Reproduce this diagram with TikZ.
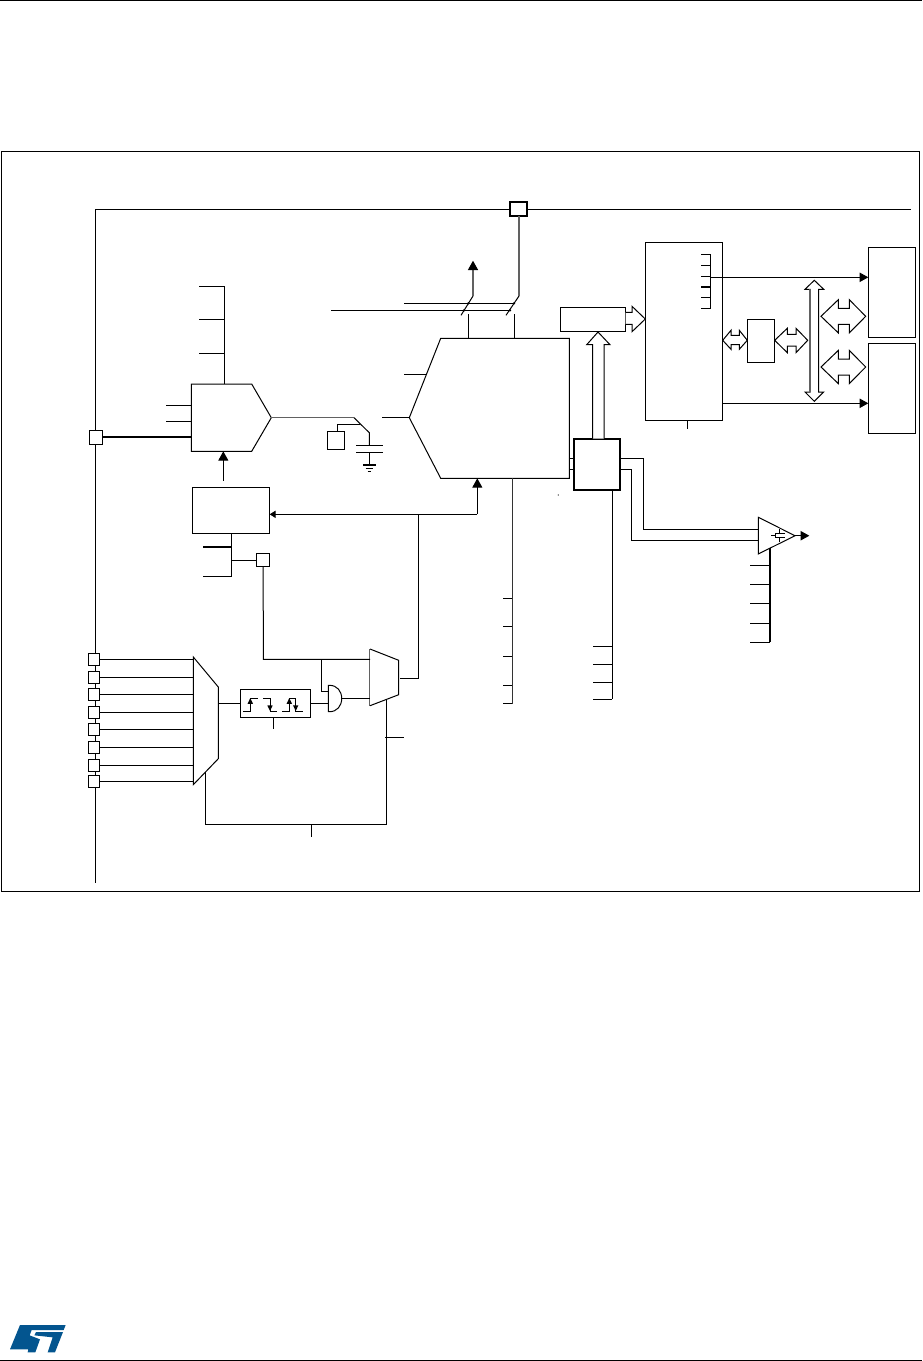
\documentclass[tikz,border=0pt]{standalone}
\usetikzlibrary{fit,arrows.meta}
\definecolor{stblue}{HTML}{03558F}
\newcommand{\bx}[6][]{\node[fit={(#3,#4)(#5,#6)},inner sep=0pt,outer sep=0pt,draw,wire,fill=white,#1](#2){};}
\begin{document}
\begin{tikzpicture}[x=0.75pt,y=-0.75pt,
  wire/.style={line width=0.75pt,draw=black},
  gwire/.style={line width=1.05pt,draw=black!62},
  heavy/.style={line width=1.5pt,draw=black},
  hollow/.style={line width=0.75pt,draw=black,fill=white,line join=miter},
  head/.style={-{Triangle[length=6.5pt,width=7pt]}},
  bighead/.style={-{Triangle[length=7pt,width=7.5pt,color=black,fill=black]}}]
\useasboundingbox (0,0) rectangle (922,1361);
\fill[white] (0,0) rectangle (922,1361);
% page rules and frame
\coordinate (hdrL) at (0,0.7); \coordinate (hdrR) at (922,0.7);
\coordinate (ftrL) at (0,1360); \coordinate (ftrR) at (922,1360);
\draw[wire] (hdrL) -- (hdrR);
\draw[wire] (ftrL) -- (ftrR);
\node[fit={(1,151)(919,891)},inner sep=0pt,draw,wire] (frame) {};
% main bus
\coordinate (busTL) at (95.3,209.3); \coordinate (busTR) at (911,209.3); \coordinate (busBot) at (95.3,882.7);
\draw[wire] (busBot) -- (busTL) -- (busTR);
\bx[heavy]{topPad}{509.5}{201.7}{527}{216}
\bx{padL}{89.3}{430.3}{102.7}{444.3}
% input mux D and pads
\coordinate (dTL) at (193.3,657); \coordinate (dTR) at (218.3,687); \coordinate (dBR) at (218.3,758.7); \coordinate (dBL) at (193.3,784.7);
\draw[hollow] (dTL)--(dTR)--(dBR)--(dBL)--cycle;
\foreach \n/\y in {1/659.3,2/677.3,3/694.3,4/712.3,5/729.3,6/747.3,7/765.3,8/781.3}{
  \bx{p\n}{88.3}{\y-5.7}{99.7}{\y+5.7}
  \draw[wire] (p\n.east) -- (p\n.east -| dTL);
}
% analog mux A
\coordinate (aTL) at (191.3,384); \coordinate (aN1) at (251.7,384); \coordinate (aTip) at (271.3,417.7); \coordinate (aN2) at (251.7,451.3); \coordinate (aBL) at (191.3,451.3);
\draw[hollow] (aTL)--(aN1)--(aTip)--(aN2)--(aBL)--cycle;
\draw[heavy] (padL.east) -- (padL.east -| aTL);
\coordinate (aBusTop) at (224.3,286.3); \coordinate (aBusBot) at (224.3,384);
\draw[wire] (aBusTop) -- (aBusBot);
\foreach \y in {286.3,319.3,353.3}{\draw[wire] (199,\y) -- (aBusTop |- 199,\y);}
\foreach \y in {405.3,421.3}{\draw[wire] (166,\y) -- (aTL |- 166,\y);}
% S/H
\coordinate (shA) at (354,417.7); \coordinate (shB) at (369.3,432.7); \coordinate (capT) at (369.3,445.3); \coordinate (capB) at (369.3,452.3); \coordinate (gnd) at (369.3,465);
\draw[gwire] (aTip) -- (shA);
\draw[wire] (shA) -- (shB) -- (capT);
\draw[wire] (356,445.3) -- (382.7,445.3);
\draw[wire] (356,452.3) -- (382.7,452.3);
\draw[wire] (capB) -- (gnd);
\draw[heavy] (363,465) -- (375.7,465);
\draw[wire] (365.5,468) -- (373,468);
\draw[wire] (367.5,471.3) -- (371,471.3);
\bx{extC}{327.3}{431.3}{344.3}{449.3}
\coordinate (shTap) at (360.3,424.3);
\draw[wire] (extC.north -| 337.3,0) -- (337.3,424.3) -- (shTap);
% box B
\bx{boxB}{192.3}{487.3}{269.7}{533.3}
\coordinate (bUpS) at (223.3,480.7);
\draw[wire,bighead] (bUpS) -- (aBL -| bUpS);
\coordinate (bStem) at (231.7,533.3); \coordinate (bStemEnd) at (231.7,576.3);
\draw[wire] (bStem) -- (bStemEnd) -- (203,576.3);
\draw[heavy] (203,547) -- (231.7,547);
\bx{padT}{256.7}{553.3}{269.7}{566.7}
\draw[wire] (231.7,560) -- (padT.west);
% main ADC block E
\coordinate (eTip) at (409.3,417.7); \coordinate (eTL) at (440.7,338.3); \coordinate (eTR) at (569.3,338.3); \coordinate (eBR) at (569.3,478.3); \coordinate (eBL) at (440.7,478.3);
\draw[hollow] (eTip)--(eTL)--(eTR)--(eBR)--(eBL)--cycle;
\draw[wire] (382,417.7) -- (eTip);
\draw[wire] (404,374.3) -- (426.7,374.3);
\coordinate (j1) at (468.3,314); \coordinate (j2) at (514.3,314);
\draw[wire] (j1) -- (j1 |- eTL);
\draw[wire] (j2) -- (j2 |- eTL);
\draw[wire] (404,303.3) -- (514,303.3);
\draw[wire] (331,310.3) -- (510,310.3);
\coordinate (s1a) at (461,315.3); \coordinate (s1b) at (473,296); \coordinate (s1c) at (473,260.7);
\coordinate (s2a) at (506,315.3); \coordinate (s2b) at (519,296);
\draw[wire] (s1a) -- (s1b);
\draw[gwire,bighead] (s1b) -- (s1c);
\draw[wire] (s2a) -- (s2b);
\draw[gwire] (s2b) -- (topPad.south -| s2b);
\foreach \p in {(468.3,303.3),(464,310.3),(514,303.3),(510,310.3)}{\fill \p circle (1.3);}
\fill (558.3,495) circle (0.6);
% edge block, gate, mux C
\bx{edge}{240.3}{689.3}{310.7}{717.3}
\draw[wire] (dTR |- edge.west) -- (edge.west);
\coordinate (cTL) at (370,649); \coordinate (cTR) at (398.7,660.3); \coordinate (cBR) at (398.7,694.7); \coordinate (cBL) at (370,705.7);
\draw[hollow,gwire,fill=white] (cTL)--(cBL);
\draw[hollow] (cTL)--(cTR)--(cBR)--(cBL);
\coordinate (gTop) at (328.3,685.3); \coordinate (gBot) at (328.3,711.7); \coordinate (gOut) at (341.7,698.5);
\draw[hollow] (gTop) -- (329.5,685.3) .. controls (337,685.3) and (341.7,691) .. (gOut) .. controls (341.7,706) and (337,711.7) .. (329.5,711.7) -- (gBot) -- cycle;
\draw[wire] (edge.east) -- (gTop |- edge.east);
\draw[wire] (gOut) -- (cTL |- gOut);
\coordinate (w1) at (263.3,659.3); \coordinate (w2) at (321.3,659.3);
\draw[wire] (padT.south) -- (w1) -- (cTL |- w1);
\draw[wire] (w2) -- (321.3,691.7) -- (328.3,691.7);
\coordinate (cOut) at (400,678.3); \coordinate (cOutC) at (418.7,678.3); \coordinate (cJ) at (418.7,514.3);
\draw[wire] (cOut) -- (cOutC) -- (cJ);
\draw[wire,-{Triangle[length=4.5pt,width=5.5pt]}] (cJ) -- (boxB.east |- cJ);
\coordinate (eIn) at (477.3,514.3);
\draw[wire] (cJ) -- (eIn);
\draw[wire,bighead] (eIn) -- (eIn |- eBL);
\coordinate (sel1) at (386.3,700); \coordinate (sel2) at (386.3,824.3); \coordinate (sel3) at (205.3,824.3); \coordinate (sel4) at (205.3,771.7);
\draw[wire] (sel1) -- (sel2) -- (sel3) -- (sel4);
\draw[wire] (385,737.3) -- (404,737.3);
\draw[wire] (311.3,824.3) -- (311.3,836.7);
\draw[wire] (273.3,717.3) -- (273.3,728.7);
% edge symbols
\draw[wire] (243,711.3) -| (250.3,698.3) -- (257.7,698.3);
\draw[wire] (263,698.3) -| (270,711.3) -- (277,711.3);
\draw[wire] (282,711.3) -| (289.3,698.3) -| (295.7,711.3) -- (303,711.3);
\foreach \x in {250.3,289.3}{\fill (\x-2.7,703.8) -- (\x,698) -- (\x+2.7,703.8) -- cycle;}
\foreach \x in {270,295.7}{\fill (\x-2.7,705.3) -- (\x,711) -- (\x+2.7,705.3) -- cycle;}
% converter F
\bx[line width=1.6pt]{conv}{573.7}{438.7}{620.3}{490.3}
\draw[wire] (eTR |- 0,458.3) -- (conv.west |- 0,458.3);
\draw[wire] (eTR |- 0,469.3) -- (conv.west |- 0,469.3);
% E bottom bus
\coordinate (eBus) at (512.3,478.3); \coordinate (eBusEnd) at (512.3,704);
\draw[line width=0.95pt,draw=black!80] (eBus) -- (eBusEnd);
\foreach \y in {598.3,626.7,703.3}{\draw[wire] (503.3,\y) -- (eBus |- 503.3,\y);}
\foreach \y in {656.7,685.7}{\draw[line width=1.1pt] (503.3,\y) -- (eBus |- 503.3,\y);}
% F bottom bus
\coordinate (fBus) at (612.3,490.3); \coordinate (fBusEnd) at (612.3,699.3);
\draw[wire] (fBus) -- (fBusEnd);
\foreach \y in {646.3,664.3,682.3,699.3}{\draw[wire] (593.3,\y) -- (fBus |- 593.3,\y);}
% comparator
\coordinate (oTL) at (758.3,517.3); \coordinate (oTip) at (795,535.7); \coordinate (oBL) at (758.3,554);
\coordinate (oOut) at (809.3,535.7);
\draw[wire] (conv.east |- 0,458.7) -- (643.3,458.7) -- (643.3,529.3) -- (oTL |- 0,529.3);
\draw[wire] (conv.east |- 0,469.3) -- (631.7,469.3) -- (631.7,540.3) -- (oTL |- 0,540.3);
\draw[hollow] (oTL)--(oTip)--(oBL)--cycle;
\draw[wire,head] (oTip) -- (oOut);
\draw[line width=0.6pt] (771,535.7) -- (775,535.7) (775,533.7) -- (775,537.3) (775,533.7) -- (785,533.7) (775,537.3) -- (785,537.3) (779.5,529) -- (779.5,533.7) (779.5,537.3) -- (779.5,541.7);
\coordinate (oBus) at (770,548); \coordinate (oBusEnd) at (770,642.3);
\draw[line width=1.2pt] (oBus) -- (oBusEnd);
\foreach \y in {565.3,584.3,603.3,623.3,642.3}{\draw[wire] (750,\y) -- (oBus |- 750,\y);}
% box G and hollow arrows
\bx{boxG}{560.3}{307.3}{625.7}{331.7}
\bx{boxH}{645.3}{242.3}{722.7}{420.3}
\draw[hollow] (592.7,438.7) -- (592.7,344.7) -- (586.7,344.7) -- (598,332) -- (610,344.7) -- (604,344.7) -- (604,438.7);
\draw[hollow] (625.7,312.3) -- (632,312.3) -- (632,306.3) -- (boxH.west |- 0,319) -- (632,331.7) -- (632,324.3) -- (625.7,324.3);
\draw[wire] (687.3,420.3) -- (687.3,429);
% comb inside H
\coordinate (cmbT) at (710.7,254.3); \coordinate (cmbB) at (710.7,308.3);
\draw[wire] (cmbT) -- (cmbB);
\foreach \y in {254.3,265.3,276.3,297.7,308.3}{\draw[wire] (701.3,\y) -- (cmbT |- 701.3,\y);}
\draw[line width=1.1pt] (701.3,287) -- (710.7,287);
% memory boxes
\bx{memI}{868.3}{247.3}{915.7}{337.3}
\bx{memJ}{868.3}{343.3}{915.7}{433.3}
\bx{boxK}{747.3}{319.3}{774.7}{362.3}
\draw[wire,head] (cmbT |- 0,277.3) -- (memI.west |- 0,277.3);
\draw[wire,head] (boxH.east |- 0,403.3) -- (memJ.west |- 0,403.3);
% double hollow arrows
\draw[hollow] (722.7,340.3) -- (731,330.3) -- (731,335.3) -- (739.3,335.3) -- (739.3,330.3) -- (747.3,340.3) -- (739.3,349.3) -- (739.3,344.7) -- (731,344.7) -- (731,349.3) -- cycle;
\draw[hollow] (774.7,340.3) -- (787.3,328.3) -- (787.3,334.3) -- (796,334.3) -- (796,328.3) -- (807.7,340.3) -- (796,352.7) -- (796,346) -- (787.3,346) -- (787.3,352.7) -- cycle;
\draw[hollow] (814.3,280.3) -- (823.7,289.3) -- (818.7,289.3) -- (818.7,392) -- (823.7,392) -- (814.3,401.3) -- (805,392) -- (810,392) -- (810,289.3) -- (805,289.3) -- cycle;
\draw[gwire] (810,289.3) -- (810,392);
\foreach \c in {316.3,367}{
\draw[hollow] (821,\c) -- (838.3,\c-16.6) -- (838.3,\c-8) -- (849.3,\c-8) -- (849.3,\c-16.6) -- (865.7,\c) -- (849.3,\c+16.6) -- (849.3,\c+8) -- (838.3,\c+8) -- (838.3,\c+16.6) -- cycle;}
% logo
\begin{scope}[shift={(5,1320)},x=0.25pt,y=-0.25pt]
\fill[stblue] (45,15) -- (182,15) -- (176,30) -- (80,30) -- (74,46) -- (105,58) -- (91,97) -- (68,97) -- (70,88) -- (15,88) -- cycle;
\fill[stblue] (93,36) -- (174,36) -- (150,97) -- (128,97) -- (143,52) -- (88,46) -- cycle;
\end{scope}
\end{tikzpicture}
\end{document}
